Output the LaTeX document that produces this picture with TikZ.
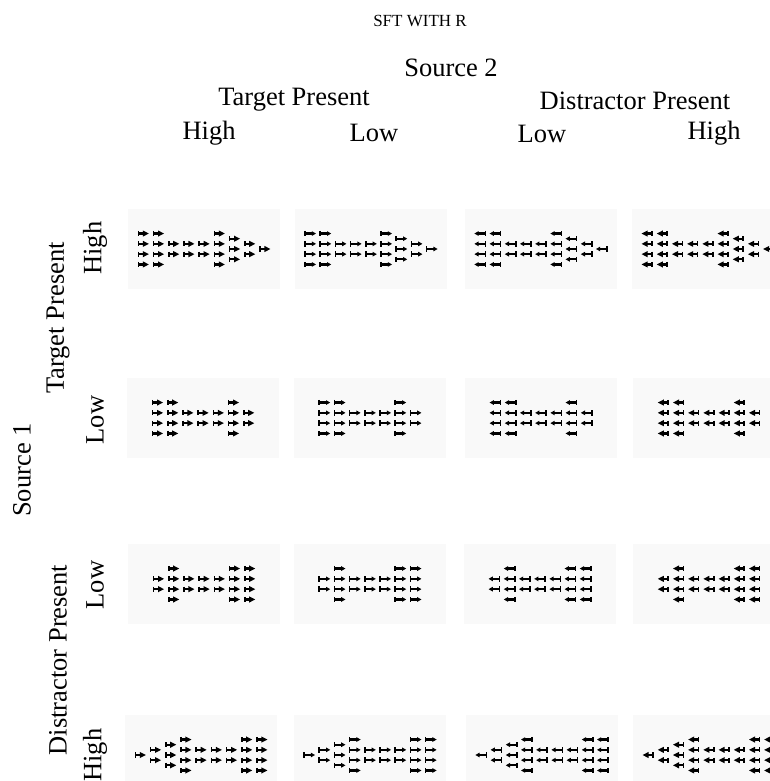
\documentclass[tikz,border=0pt]{standalone}
\usepackage{fontspec}
\setmainfont{Liberation Serif}
\tikzset{
  lbl/.style={inner sep=0pt, font=\fontsize{26.5}{30}\selectfont},
  ttl/.style={inner sep=0pt, font=\fontsize{17}{20}\selectfont},
  panel/.style={fill=black!2.5, draw=none},
  barln/.style={line width=1.7pt},
  shaftln/.style={line width=2.2pt},
}
% strong glyphs: tail bar, short shaft, big filled head (#1 = x, #2 = y)
\newcommand\glyphHiR[2]{%
  \draw[barln] ({#1-4.8},{#2-2.6}) -- ({#1-4.8},{#2+2.6});
  \draw[shaftln] ({#1-4.8},{#2}) -- ({#1},{#2});
  \fill ({#1-0.4},{#2-3.1}) -- ({#1+5.6},{#2}) -- ({#1-0.4},{#2+3.1}) -- cycle;}
\newcommand\glyphHiL[2]{%
  \draw[barln] ({#1+4.8},{#2-2.6}) -- ({#1+4.8},{#2+2.6});
  \draw[shaftln] ({#1+4.8},{#2}) -- ({#1},{#2});
  \fill ({#1+0.4},{#2-3.1}) -- ({#1-5.6},{#2}) -- ({#1+0.4},{#2+3.1}) -- cycle;}
% weak glyphs: tail bar, long shaft, small head
\newcommand\glyphLoR[2]{%
  \draw[barln] ({#1-5.2},{#2-2.7}) -- ({#1-5.2},{#2+2.7});
  \draw[shaftln] ({#1-5.2},{#2}) -- ({#1+2.5},{#2});
  \fill ({#1+1.6},{#2-2.4}) -- ({#1+5.8},{#2}) -- ({#1+1.6},{#2+2.4}) -- cycle;}
\newcommand\glyphLoL[2]{%
  \draw[barln] ({#1+5.2},{#2-2.7}) -- ({#1+5.2},{#2+2.7});
  \draw[shaftln] ({#1+5.2},{#2}) -- ({#1-2.5},{#2});
  \fill ({#1-1.6},{#2-2.4}) -- ({#1-5.8},{#2}) -- ({#1-1.6},{#2+2.4}) -- cycle;}
% element layouts: column/row positions in the grid
\def\patA{0/0,1/0,5/0,6/0.5,0/1,1/1,2/1,3/1,4/1,5/1,7/1,6/1.5,8/1.5,0/2,1/2,2/2,3/2,4/2,5/2,7/2,6/2.5,0/3,1/3,5/3}
\def\patB{0/0,1/0,5/0,0/1,1/1,2/1,3/1,4/1,5/1,6/1,0/2,1/2,2/2,3/2,4/2,5/2,6/2,0/3,1/3,5/3}
\def\patC{1/0,5/0,6/0,0/1,1/1,2/1,3/1,4/1,5/1,6/1,0/2,1/2,2/2,3/2,4/2,5/2,6/2,1/3,5/3,6/3}
\def\patD{3/0,7/0,8/0,2/0.5,1/1,3/1,4/1,5/1,6/1,7/1,8/1,0/1.5,2/1.5,1/2,3/2,4/2,5/2,6/2,7/2,8/2,2/2.5,3/3,7/3,8/3}
% #1 layout, #2 centre column, #3 glyph macro, #4 x, #5 y
\newcommand\cellpat[5]{%
  \fill[panel] ({#4-76},{#5-40}) rectangle ({#4+76},{#5+40});
  \foreach \c/\r in #1 {%
    \pgfmathsetmacro\gx{#4+15.2*(\c-#2)}%
    \pgfmathsetmacro\gy{#5+10.3*(\r-1.5)}%
    #3{\gx}{\gy}}%
}
\begin{document}
\begin{tikzpicture}[x=1pt,y=-1pt]
\useasboundingbox (0,0) rectangle (770,781);
\fill[white] (0,0) rectangle (770,781);

% headings
\node[ttl] (title) at (420,21) {SFT WITH R};
\node[lbl] (src2) at (451,68) {Source 2};
\node[lbl] (tp2) at (294,100) {Target Present};
\node[lbl] (dp2) at (635,101) {Distractor Present};
\node[lbl] (h2a) at (209,133) {High};
\node[lbl] (l2a) at (374,133) {Low};
\node[lbl] (l2b) at (542,134) {Low};
\node[lbl] (h2b) at (714,133) {High};

\node[lbl, rotate=90] (src1) at (22,470) {Source 1};
\node[lbl, rotate=90] (tp1) at (58,318) {Target Present};
\node[lbl, rotate=90] (h1a) at (95,248) {High};
\node[lbl, rotate=90] (l1a) at (95,420) {Low};
\node[lbl, rotate=90] (dp1) at (58,660) {Distractor Present};
\node[lbl, rotate=90] (l1b) at (95,585) {Low};
\node[lbl, rotate=90] (h1b) at (95,755) {High};

% stimulus grid: rows = global shape, columns = local element
\cellpat{\patA}{4}{\glyphHiR}{204}{249}
\cellpat{\patA}{4}{\glyphLoR}{371}{249}
\cellpat{\patA}{4}{\glyphLoL}{541}{249}
\cellpat{\patA}{4}{\glyphHiL}{708}{249}

\cellpat{\patB}{3}{\glyphHiR}{203}{418}
\cellpat{\patB}{3}{\glyphLoR}{370}{418}
\cellpat{\patB}{3}{\glyphLoL}{541}{418}
\cellpat{\patB}{3}{\glyphHiL}{709}{418}

\cellpat{\patC}{3}{\glyphHiR}{204}{584}
\cellpat{\patC}{3}{\glyphLoR}{370}{584}
\cellpat{\patC}{3}{\glyphLoL}{540}{584}
\cellpat{\patC}{3}{\glyphHiL}{709}{584}

\cellpat{\patD}{4}{\glyphHiR}{201}{755}
\cellpat{\patD}{4}{\glyphLoR}{370}{755}
\cellpat{\patD}{4}{\glyphLoL}{542}{755}
\cellpat{\patD}{4}{\glyphHiL}{709}{755}
\end{tikzpicture}
\end{document}
